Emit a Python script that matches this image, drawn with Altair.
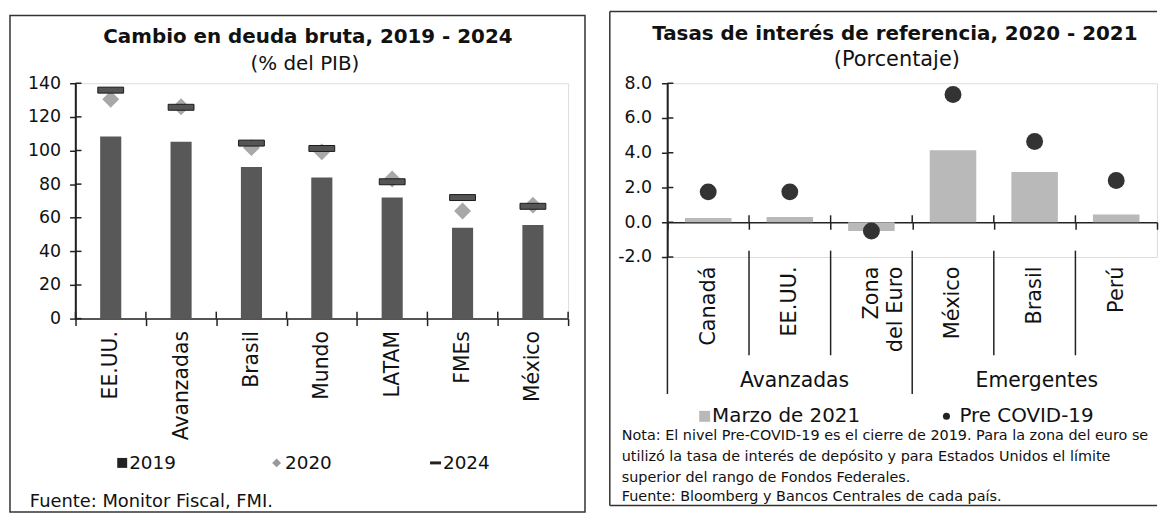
import altair as alt
import pandas as pd

# ---------------- Left panel data ----------------
regiones = ["EE.UU.", "Avanzadas", "Brasil", "Mundo", "LATAM", "FMEs", "México"]
deuda_2019 = [108.3, 105.2, 90.2, 83.9, 72.0, 54.1, 55.7]
deuda_2020 = [130.5, 126.0, 101.7, 99.2, 83.0, 64.0, 67.5]
deuda_2024 = [135.9, 125.7, 104.4, 101.2, 81.4, 72.0, 66.8]
ticks_left = [0, 20, 40, 60, 80, 100, 120, 140]

# ---------------- Right panel data ----------------
paises = ["Canadá", "EE.UU.", "Zona del Euro", "México", "Brasil", "Perú"]
grupos = ["Avanzadas", "Avanzadas", "Avanzadas", "Emergentes", "Emergentes", "Emergentes"]
tasa_marzo_2021 = [0.25, 0.3, -0.5, 4.15, 2.9, 0.45]
tasa_pre_covid = [1.75, 1.75, -0.5, 7.35, 4.65, 2.4]
ticks_right = [-2, 0, 2, 4, 6, 8]

notas = [
    "Nota: El nivel Pre-COVID-19 es el cierre de 2019. Para la zona del euro se",
    "utilizó la tasa de interés de depósito y para Estados Unidos el límite",
    "superior del rango de Fondos Federales.",
    "Fuente: Bloomberg y Bancos Centrales de cada país.",
]

FONT = "DejaVu Sans"
one = pd.DataFrame({"a": [0]})


def txt(s, x, y, size, weight=400, align="left", color="#111"):
    return alt.Chart(pd.DataFrame({"t": [s]})).mark_text(
        align=align, baseline="middle", fontSize=size, fontWeight=weight, color=color, font=FONT
    ).encode(x=alt.value(x), y=alt.value(y), text="t:N")


def hline(x1, x2, y, color="#333", w=1.5):
    return alt.Chart(one).mark_rule(color=color, strokeWidth=w).encode(
        x=alt.value(x1), x2=alt.value(x2), y=alt.value(y))


def vline(x, y1, y2, color="#333", w=1.5):
    return alt.Chart(one).mark_rule(color=color, strokeWidth=w).encode(
        x=alt.value(x), y=alt.value(y1), y2=alt.value(y2))


AX = dict(domain=True, domainColor="#222", tickColor="#222", labelColor="#111",
          domainWidth=1.5, tickWidth=1.5, labelFont=FONT)

# ================= LEFT PANEL =================
W1, H1 = 496, 237
dfL = pd.DataFrame({"region": regiones, "d2019": deuda_2019, "d2020": deuda_2020, "d2024": deuda_2024})

xL_scale = alt.Scale(paddingInner=0, paddingOuter=0)
xL_axis = alt.Axis(title=None, labelAngle=-90, labelFontSize=20.5, labelPadding=5,
                   tickSize=7, tickBand="extent", **AX)
xL = alt.X("region:N", sort=regiones, scale=xL_scale, axis=xL_axis)
yL_scale = alt.Scale(domain=[0, 140], nice=False)
yL_axis = alt.Axis(title=None, values=ticks_left, grid=False, tickSize=6,
                   labelFontSize=17.5, labelPadding=9, **AX)


def yL(field):
    return alt.Y(f"{field}:Q", scale=yL_scale, axis=yL_axis)


bars = alt.Chart(dfL).mark_bar(color="#585858", width=alt.RelativeBandSize(0.3)).encode(x=xL, y=yL("d2019"))
diam = alt.Chart(dfL).mark_point(shape="diamond", filled=True, size=290, color="#a8a8a8", opacity=1).encode(x=xL, y=yL("d2020"))
dash = alt.Chart(dfL).mark_tick(color="#555", stroke="#1a1a1a", strokeWidth=1, thickness=6, size=26, opacity=1).encode(x=xL, y=yL("d2024"))

# inner halves of the crossing ticks
ytick_in_L = alt.Chart(pd.DataFrame({"t": ticks_left})).mark_rule(color="#222", strokeWidth=1.5).encode(
    y=yL("t"), x=alt.value(0), x2=alt.value(6))
xtick_in_L = alt.Chart(dfL).mark_rule(color="#222", strokeWidth=1.5).encode(
    x=alt.X("region:N", sort=regiones, bandPosition=0, scale=xL_scale, axis=xL_axis),
    y=alt.value(H1 - 7), y2=alt.value(H1))

left = alt.layer(
    alt.Chart(one).mark_rect(fillOpacity=0, stroke="#333", strokeWidth=1.5).encode(
        x=alt.value(-66), x2=alt.value(513), y=alt.value(-68.2), y2=alt.value(431.8)),
    bars, diam, dash, ytick_in_L, xtick_in_L,
    vline(W1, H1 - 7, H1, "#222", 1.5),
    vline(0, 0, H1, "#222", 1.5),
    txt("Cambio en deuda bruta, 2019 - 2024", 234, -46.7, 20, 700, "center"),
    txt("(% del PIB)", 231, -19.5, 20, 400, "center"),
    alt.Chart(one).mark_square(size=100, color="#222", opacity=1).encode(x=alt.value(47), y=alt.value(382.3)),
    txt("2019", 54, 382.3, 18.5),
    alt.Chart(one).mark_point(shape="diamond", filled=True, size=80, color="#999", opacity=1).encode(x=alt.value(202.5), y=alt.value(382.3)),
    txt("2020", 211, 382.3, 18.5),
    hline(357, 368, 382.3, "#222", 3),
    txt("2024", 370, 382.3, 18.5),
    txt("Fuente: Monitor Fiscal, FMI.", -46, 422.2, 18),
).properties(width=W1, height=H1)

# ================= RIGHT PANEL =================
W2, H2 = 493, 175
ZERO_Y = 140  # pixel row of the 0.0 line inside the plot (8/10 of H2)
dfR = pd.DataFrame({"pais": paises, "grupo": grupos, "marzo": tasa_marzo_2021, "pre": tasa_pre_covid})

xR_axis = alt.Axis(title=None, labelAngle=-90, labelFontSize=21, labelPadding=37,
                   tickSize=7, tickBand="extent", offset=-(H2 - ZERO_Y), labelLineHeight=24,
                   labelExpr="datum.value == 'Zona del Euro' ? ['Zona', 'del Euro'] : datum.label",
                   **AX)
xR_scale = alt.Scale(paddingInner=0, paddingOuter=0)
xR = alt.X("pais:N", sort=paises, scale=xR_scale, axis=xR_axis)
yR_scale = alt.Scale(domain=[-2, 8], nice=False)
yR_axis = alt.Axis(title=None, values=ticks_right, format=".1f", grid=False, tickSize=6,
                   labelFontSize=17.5, labelPadding=10,
                   labelExpr="replace(datum.label, '\u2212', '-')", **AX)


def yR(field):
    return alt.Y(f"{field}:Q", scale=yR_scale, axis=yR_axis)


barsR = alt.Chart(dfR).mark_bar(color="#b9b9b9", width=alt.RelativeBandSize(0.57)).encode(x=xR, y=yR("marzo"))
dots = alt.Chart(dfR).mark_circle(size=290, color="#333", opacity=1).encode(x=xR, y=yR("pre"))

sep_bandstart = alt.X("pais:N", sort=paises, bandPosition=0, scale=xR_scale, axis=xR_axis)
first_emerg = paises[grupos.index("Emergentes")]
seps = alt.Chart(dfR).transform_filter(
    (alt.datum.pais != paises[0]) & (alt.datum.pais != first_emerg)
).mark_rule(color="#222", strokeWidth=1.5).encode(x=sep_bandstart, y=alt.value(168.6), y2=alt.value(273.9))
sep_grp = alt.Chart(dfR).transform_filter(alt.datum.pais == first_emerg).mark_rule(
    color="#222", strokeWidth=1.5).encode(x=sep_bandstart, y=alt.value(168.6), y2=alt.value(312.9))
xtick_in_R = alt.Chart(dfR).transform_filter(alt.datum.pais != paises[0]).mark_rule(
    color="#222", strokeWidth=1.5).encode(x=sep_bandstart, y=alt.value(ZERO_Y - 7), y2=alt.value(ZERO_Y))
ytick_in_R = alt.Chart(pd.DataFrame({"t": ticks_right})).mark_rule(color="#222", strokeWidth=1.5).encode(
    y=yR("t"), x=alt.value(0), x2=alt.value(6))

right_layers = [
    vline(-58, -72.2, 425.1),
    hline(-58, 493, -72.2),
    hline(-58, 493, 425.1),
    barsR, dots, seps, sep_grp, xtick_in_R, ytick_in_R,
    vline(0, 0, 312.9, "#222", 1.5),
    txt("Tasas de interés de referencia, 2020 - 2021", 229, -49.8, 20, 700, "center"),
    txt("(Porcentaje)", 231, -23.5, 21, 400, "center"),
    txt("Avanzadas", 128, 300.3, 20.5, 400, "center"),
    txt("Emergentes", 372, 300.3, 20.5, 400, "center"),
    alt.Chart(one).mark_square(size=121, color="#b9b9b9", opacity=1).encode(x=alt.value(37.5), y=alt.value(335.4)),
    txt("Marzo de 2021", 45, 335.4, 20),
    alt.Chart(one).mark_circle(size=50, color="#222", opacity=1).encode(x=alt.value(281), y=alt.value(335.4)),
    txt("Pre COVID-19", 294, 335.4, 20),
]
for line, yy in zip(notas, [355.1, 376.3, 397.5, 417.0]):
    right_layers.append(txt(line, -46, yy, 14.5, 400))

right = alt.layer(*right_layers).properties(width=W2, height=H2)

chart = alt.hconcat(left, right, spacing=21, padding=0).configure_view(stroke=None).configure(font=FONT)

chart.save("out.html", embed_options={"renderer": "svg", "actions": False})
